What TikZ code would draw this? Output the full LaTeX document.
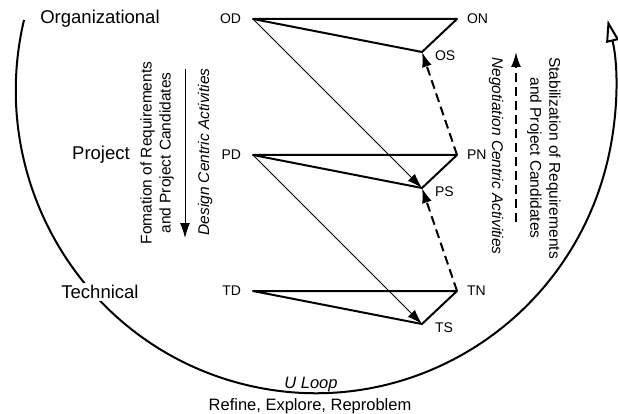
\documentclass[tikz,border=0pt]{standalone}
\usepackage{fontspec}
\setmainfont{Liberation Sans}
\usetikzlibrary{arrows.meta}
\tikzset{%
  >={Latex[length=15pt,width=10pt]}, % filled arrow heads
  inner sep=0pt,%
  outer sep=0pt,%
  tier label/.style={font=\fontsize{18.5}{22}\selectfont,fill=white,inner sep=2pt},%
  point label/.style={font=\fontsize{14}{16}\selectfont},%
  side text/.style={font=\fontsize{15.5}{19}\selectfont,align=center},%
  side italic/.style={font=\fontsize{15.5}{19}\selectfont\itshape},%
  loop text/.style={font=\fontsize{16.5}{18}\selectfont},%
  heavy line/.style={line width=2pt,line join=round},%
  light line/.style={line width=1pt},%
  dash line/.style={line width=2pt,dash pattern=on 9pt off 5pt}%
}

\begin{document}
\begin{tikzpicture}[x=1pt,y=-1pt] % U LOOP
\useasboundingbox (0,0) rectangle (618,414);

% the big loop
\coordinate (loop start) at (24,20);
\draw[line width=2pt,-{Triangle[open,length=22pt,width=13pt]}] (loop start)
    arc[start angle=166.6,end angle=373.4,x radius=300pt,y radius=303pt];

% three levels: D, N and S corners
\foreach \lv/\y in {O/19,P/155,T/291} {
  \coordinate (\lv D) at (253,\y);
  \coordinate (\lv N) at (457,\y);
  \coordinate (\lv S) at (422,\y+33);
  \draw[heavy line] (\lv S) -- (\lv D) -- (\lv N) -- cycle;
  \node[point label,left=12pt] (\lv D label) at (\lv D) {\lv D};
  \node[point label,right=10pt] (\lv N label) at (\lv N) {\lv N};
  \node[point label,right=13pt,yshift=-4pt] (\lv S label) at (\lv S) {\lv S};
}

\draw[->,light line] (OD) -- (PS);
\draw[->,light line] (PD) -- (TS);
\draw[->,dash line] (PN) -- (OS);
\draw[->,dash line] (TN) -- (PS);

% side arrows
\coordinate (design top) at (185,69);
\coordinate (design bottom) at (185,238);
\draw[->,light line] (design top) -- (design bottom);
\coordinate (nego bottom) at (516,222);
\coordinate (nego top) at (516,52);
\draw[->,dash line] (nego bottom) -- (nego top);

\node[side text,rotate=90] (formation) at (157,153)
    {Fomation of Requirements\\and Project Candidates};
\node[side italic,rotate=90] (design) at (205,152) {Design Centric Activities};
\node[side italic,rotate=-90] (negotiation) at (496,156) {Negotiation Centric Activities};
\node[side text,rotate=-90] (stabilization) at (544,158)
    {Stabilization of Requirements\\and Project Candidates};

\node[tier label] (organizational) at (100,19) {Organizational};
\node[tier label] (project) at (101,155) {Project};
\node[tier label] (technical) at (100,292) {Technical};

\node[loop text,font=\fontsize{16.5}{18}\selectfont\itshape] (uloop) at (311,385) {U Loop};
\node[loop text] (refine) at (310,406) {Refine, Explore, Reproblem};

\end{tikzpicture}
\end{document}
